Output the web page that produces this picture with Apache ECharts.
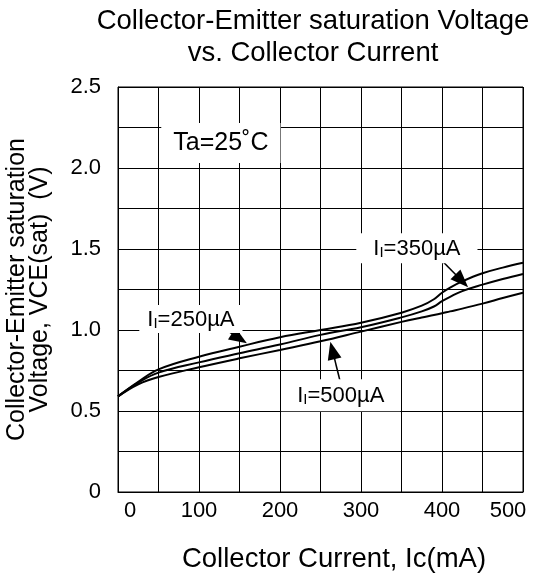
<!DOCTYPE html>
<html>
<head>
<meta charset="utf-8">
<script src="https://cdn.jsdelivr.net/npm/echarts@6/dist/echarts.min.js"></script>
<style>
html,body{margin:0;padding:0;background:#fff;}
#chart{width:545px;height:580px;}
</style>
</head>
<body>
<div id="chart"></div>
<script>
// ---- data ----
var xValues = [0, 25, 50, 100, 150, 200, 250, 300, 350, 375, 390, 400, 410, 425, 450, 475, 500];
var vce250 = [0.59, 0.68, 0.757, 0.835, 0.897, 0.955, 1.0, 1.045, 1.107, 1.15, 1.19, 1.23, 1.262, 1.30, 1.35, 1.385, 1.415];
var vce350 = [0.59, 0.675, 0.737, 0.80, 0.856, 0.91, 0.97, 1.017, 1.078, 1.115, 1.145, 1.178, 1.205, 1.24, 1.28, 1.315, 1.346];
var vce500 = [0.59, 0.665, 0.71, 0.77, 0.825, 0.877, 0.93, 0.99, 1.05, 1.077, 1.092, 1.103, 1.115, 1.132, 1.163, 1.197, 1.23];
var xTickLabels = ['0', '100', '200', '300', '400', '500'];
var yTickLabels = ['0', '0.5', '1.0', '1.5', '2.0', '2.5'];
var seriesNames = ['II=250µA', 'II=350µA', 'II=500µA'];
var titleText = 'Collector-Emitter saturation Voltage\nvs. Collector Current';
var xAxisTitle = 'Collector Current, Ic(mA)';
var yAxisTitle = 'Collector-Emitter saturation\nVoltage, VCE(sat)  (V)';
var tempLabel = 'Ta=25˚C';
// annotation anchors (data coordinates)
var tempAt = [127, 2.155];
var label250At = [90, 1.068];
var label350At = [369, 1.505];
var label500At = [275, 0.597];
var arrow250 = [[130, 1.012], [149.8, 0.948]];
var arrow350 = [[397.6, 1.440], [424.4, 1.304]];
var arrow500 = [[274.3, 0.681], [264.8, 0.874]];

var FONT = '"Liberation Sans", Arial, Helvetica, sans-serif';

function pairs(xs, ys) { return xs.map(function (x, i) { return [x, ys[i]]; }); }

function richName(txt) {
  return '{a|I}{s|I}{a|' + txt.slice(2) + '}';
}
var labelRich = {
  a: { fontSize: 22, fontFamily: FONT, color: '#000', lineHeight: 24, verticalAlign: 'bottom' },
  s: { fontSize: 15, fontFamily: FONT, color: '#000', lineHeight: 17, verticalAlign: 'bottom' },
  t: { fontSize: 25, fontFamily: FONT, color: '#000', lineHeight: 26 }
};

function textPoint(coord, formatter, padding) {
  return {
    coord: coord,
    symbol: 'rect',
    symbolSize: 0,
    label: {
      show: true,
      position: 'inside',
      formatter: formatter,
      backgroundColor: '#fff',
      padding: padding,
      rich: labelRich,
      fontFamily: FONT,
      fontSize: 22,
      color: '#000'
    }
  };
}

function arrowLine(seg) {
  return [{ coord: seg[0] }, { coord: seg[1] }];
}

var markLineStyle = {
  silent: true,
  symbol: ['none', 'triangle'],
  symbolSize: [14, 18],
  lineStyle: { color: '#000', width: 1.6, type: 'solid' },
  itemStyle: { color: '#000' },
  label: { show: false },
  animation: false
};

var chart = echarts.init(document.getElementById('chart'), null, { renderer: 'canvas' });
var option = {
  animation: false,
  backgroundColor: '#fff',
  title: {
    text: titleText,
    left: 308,
    textAlign: 'center',
    top: 0,
    textStyle: { fontFamily: FONT, fontSize: 27.5, fontWeight: 'normal', color: '#000', lineHeight: 32 }
  },
  grid: {
    left: 118, right: 22, top: 87, bottom: 88,
    containLabel: false,
    outerBoundsMode: 'none',
    show: true, borderColor: '#000', borderWidth: 1, backgroundColor: 'transparent'
  },
  xAxis: {
    type: 'value', min: 0, max: 500, interval: 50,
    name: xAxisTitle, nameLocation: 'middle', nameGap: 53,
    nameTextStyle: { fontFamily: FONT, fontSize: 27.5, color: '#000', padding: [0, 0, 0, 27] },
    axisLine: { show: true, lineStyle: { color: '#000', width: 1 } },
    axisTick: { show: false },
    splitLine: { show: true, lineStyle: { color: '#000', width: 1 } },
    axisLabel: {
      margin: 8,
      fontFamily: FONT, fontSize: 22, color: '#000',
      formatter: function (v) {
        if (v % 100 !== 0) return '';
        var t = xTickLabels[v / 100];
        if (v === 0) return '{l|' + t + '}';
        if (v === 500) return '{r|' + t + '}';
        return t;
      },
      rich: {
        l: { fontFamily: FONT, fontSize: 22, color: '#000', padding: [0, 0, 0, 24] },
        r: { fontFamily: FONT, fontSize: 22, color: '#000', padding: [0, 30, 0, 0] }
      }
    }
  },
  yAxis: {
    type: 'value', min: 0, max: 2.5, interval: 0.25,
    name: yAxisTitle, nameLocation: 'middle', nameGap: 66, nameRotate: 90,
    nameTextStyle: { fontFamily: FONT, fontSize: 25, color: '#000', lineHeight: 23 },
    axisLine: { show: true, lineStyle: { color: '#000', width: 1 } },
    axisTick: { show: false },
    splitLine: { show: true, lineStyle: { color: '#000', width: 1 } },
    axisLabel: {
      margin: 17,
      fontFamily: FONT, fontSize: 22, color: '#000',
      formatter: function (v) {
        var k = Math.round(v * 100);
        if (k % 50 !== 0) return '';
        return yTickLabels[k / 50];
      }
    }
  },
  series: [
    {
      name: seriesNames[0], type: 'line', smooth: 0.4, symbol: 'none',
      data: pairs(xValues, vce250),
      lineStyle: { color: '#000', width: 2 },
      z: 3,
      markPoint: {
        silent: true, animation: false,
        data: [
          textPoint(tempAt, '{t|' + tempLabel + '}', [7, 12, 7, 12]),
          textPoint(label250At, richName(seriesNames[0]), [2, 8, 2, 8])
        ]
      },
      markLine: Object.assign({ data: [arrowLine(arrow250)] }, markLineStyle)
    },
    {
      name: seriesNames[1], type: 'line', smooth: 0.4, symbol: 'none',
      data: pairs(xValues, vce350),
      lineStyle: { color: '#000', width: 2 },
      z: 3,
      markPoint: {
        silent: true, animation: false,
        data: [textPoint(label350At, richName(seriesNames[1]), [3, 17, 3, 17])]
      },
      markLine: Object.assign({ data: [arrowLine(arrow350)] }, markLineStyle)
    },
    {
      name: seriesNames[2], type: 'line', smooth: 0.4, symbol: 'none',
      data: pairs(xValues, vce500),
      lineStyle: { color: '#000', width: 2 },
      z: 3,
      markPoint: {
        silent: true, animation: false,
        data: [textPoint(label500At, richName(seriesNames[2]), [4, 16, 4, 16])]
      },
      markLine: Object.assign({ data: [arrowLine(arrow500)] }, markLineStyle)
    }
  ]
};
chart.setOption(option);
</script>
</body>
</html>
